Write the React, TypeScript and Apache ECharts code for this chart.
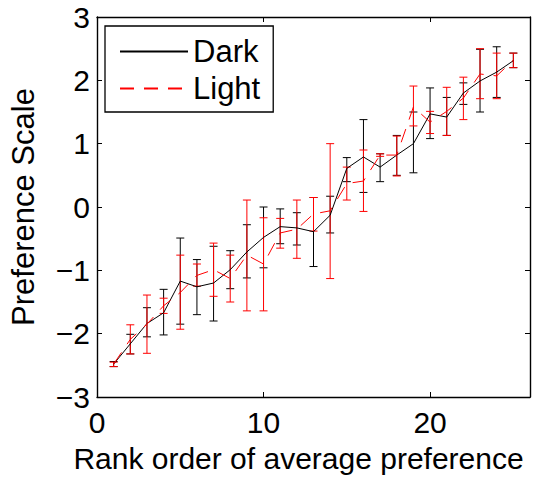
import React, { useEffect, useRef } from "react";
import * as echarts from "echarts";

const ranks = [1, 2, 3, 4, 5, 6, 7, 8, 9, 10, 11, 12, 13, 14, 15, 16, 17, 18, 19, 20, 21, 22, 23, 24, 25];

const darkMean = [-2.48, -2.16, -1.84, -1.67, -1.17, -1.26, -1.2, -0.99, -0.71, -0.48, -0.31, -0.33, -0.39, -0.13, 0.61, 0.79, 0.63, 0.82, 1.0, 1.47, 1.42, 1.8, 1.99, 2.13, 2.31];
const darkHigh = [-2.44, -2.01, -1.59, -1.3, -0.49, -0.83, -0.62, -0.69, -0.28, 0.0, -0.03, -0.09, 0.15, 0.17, 0.78, 1.38, 0.84, 1.13, 1.5, 1.88, 1.73, 1.96, 2.49, 2.53, 2.43];
const darkLow = [-2.52, -2.32, -2.05, -2.02, -1.85, -1.7, -1.8, -1.29, -1.12, -0.96, -0.58, -0.6, -0.94, -0.41, 0.4, 0.23, 0.4, 0.5, 0.54, 1.08, 1.13, 1.62, 1.5, 1.73, 2.2];

const lightMean = [-2.48, -2.09, -1.85, -1.56, -1.35, -1.08, -0.99, -1.13, -0.76, -0.9, -0.41, -0.35, -0.11, -0.06, 0.37, 0.41, 0.82, 0.82, 1.58, 1.34, 1.51, 1.72, 2.1, 2.07, 2.32];
const lightHigh = [-2.45, -1.86, -1.39, -1.44, -0.76, -0.9, -0.57, -0.76, 0.11, -0.17, -0.18, 0.11, 0.15, 1.0, 0.63, 0.9, 0.84, 1.12, 1.91, 1.51, 1.89, 2.05, 2.5, 2.43, 2.43];
const lightLow = [-2.52, -2.32, -2.31, -1.68, -1.93, -1.25, -1.41, -1.5, -1.64, -1.64, -0.65, -0.81, -0.38, -1.13, 0.11, -0.07, 0.8, 0.49, 1.28, 1.16, 1.13, 1.38, 1.71, 1.71, 2.2];

const FONT = "Liberation Sans, Arial, Helvetica, sans-serif";

function errorBarSeries(name: string, low: number[], high: number[], color: string) {
  return {
    type: "custom",
    name,
    encode: { x: 0, y: [1, 2] },
    data: ranks.map((r, i) => [r, low[i], high[i]]),
    renderItem: (_params: any, api: any) => {
      const x = api.value(0);
      const lo = api.coord([x, api.value(1)]);
      const hi = api.coord([x, api.value(2)]);
      const hw = 4;
      const style = { stroke: color, lineWidth: 1 };
      return {
        type: "group",
        children: [
          { type: "line", shape: { x1: lo[0], y1: lo[1], x2: hi[0], y2: hi[1] }, style },
          { type: "line", shape: { x1: lo[0] - hw, y1: lo[1], x2: lo[0] + hw, y2: lo[1] }, style },
          { type: "line", shape: { x1: hi[0] - hw, y1: hi[1], x2: hi[0] + hw, y2: hi[1] }, style },
        ],
      };
    },
  };
}

const minus = (v: number) => (v < 0 ? "\u2212" + Math.abs(v) : String(v));

export default function App() {
  const ref = useRef<HTMLDivElement>(null);
  useEffect(() => {
    if (!ref.current) return;
    const chart = echarts.init(ref.current, undefined, { renderer: "svg" });
    const axisLine = { show: true, onZero: false, lineStyle: { color: "#000", width: 1.4 } };
    const axisTick = { show: true, inside: true, length: 5, lineStyle: { color: "#000", width: 1 } };
    chart.setOption({
      animation: false,
      backgroundColor: "#fff",
      grid: { left: 96, right: 26, top: 17, bottom: 79, containLabel: false },
      legend: {
        data: ["Dark", "Light"],
        orient: "vertical",
        left: 105,
        top: 26,
        itemWidth: 68,
        itemHeight: 10,
        itemGap: 6,
        padding: [10, 13, 8, 14],
        borderColor: "#000",
        borderWidth: 1.3,
        backgroundColor: "#fff",
        itemStyle: { opacity: 0 },
        textStyle: { fontSize: 31, fontFamily: FONT, color: "#000" },
      },
      xAxis: [
        {
          type: "value",
          min: 0,
          max: 26,
          interval: 10,
          position: "bottom",
          axisLine,
          axisTick,
          splitLine: { show: false },
          axisLabel: {
            fontSize: 30,
            fontFamily: FONT,
            color: "#000",
            margin: 10,
            formatter: (v: number) => (v % 10 === 0 ? minus(v) : ""),
          },
          name: "Rank order of average preference",
          nameLocation: "middle",
          nameGap: 46,
          nameTextStyle: { fontSize: 30, fontFamily: FONT, color: "#000", padding: [0, 30, 0, 0] },
        },
        {
          type: "value",
          min: 0,
          max: 26,
          interval: 10,
          position: "top",
          axisLine,
          axisTick,
          splitLine: { show: false },
          axisLabel: { show: false },
        },
      ],
      yAxis: [
        {
          type: "value",
          min: -3,
          max: 3,
          interval: 1,
          position: "left",
          axisLine,
          axisTick,
          splitLine: { show: false },
          axisLabel: {
            fontSize: 30,
            fontFamily: FONT,
            color: "#000",
            margin: 7,
            formatter: (v: number) => minus(v),
          },
          name: "Preference Scale",
          nameLocation: "middle",
          nameGap: 58,
          nameTextStyle: { fontSize: 31, fontFamily: FONT, color: "#000" },
        },
        {
          type: "value",
          min: -3,
          max: 3,
          interval: 1,
          position: "right",
          axisLine,
          axisTick,
          splitLine: { show: false },
          axisLabel: { show: false },
        },
      ],
      series: [
        errorBarSeries("Dark error", darkLow, darkHigh, "#000"),
        errorBarSeries("Light error", lightLow, lightHigh, "#ff0000"),
        {
          type: "line",
          name: "Dark",
          data: ranks.map((r, i) => [r, darkMean[i]]),
          symbol: "none",
          lineStyle: { color: "#000", width: 1 },
          itemStyle: { color: "#000" },
        },
        {
          type: "line",
          name: "Light",
          data: ranks.map((r, i) => [r, lightMean[i]]),
          symbol: "none",
          lineStyle: { color: "#ff0000", width: 1, type: [14, 10] },
          itemStyle: { color: "#ff0000" },
        },
      ],
    });
    return () => chart.dispose();
  }, []);
  return <div ref={ref} style={{ position: "absolute", left: 0, top: 0, width: 556, height: 478 }} />;
}
